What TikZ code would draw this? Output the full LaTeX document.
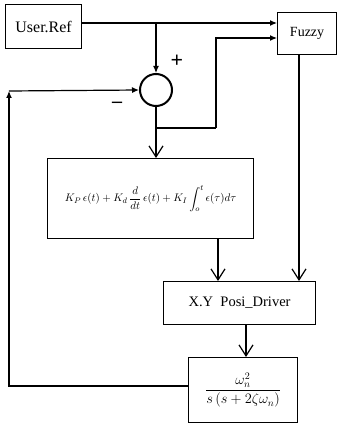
\documentclass[tikz,border=0pt]{standalone}
\usepackage{amsmath}
\usepackage{fontspec}
\setmainfont{Liberation Serif}
\usetikzlibrary{arrows.meta}
\begin{document}
\begin{tikzpicture}[x=1pt,y=-1pt,
  blk/.style={draw,line width=1.2pt,inner sep=0pt,anchor=north west},
  ln/.style={line width=1.2pt},
  fa/.style={ln,-{Latex[length=7pt,width=6pt]}},
  va/.style={ln,-{Straight Barb[length=11pt,width=14pt,line width=1.2pt]}}]
\useasboundingbox (0,0) rectangle (339,425);
\node[blk,minimum width=76pt,minimum height=44pt,font=\fontsize{16}{18}\selectfont] (user) at (5,4) {User.Ref};
\node[blk,minimum width=59pt,minimum height=42pt,font=\fontsize{14}{16}\selectfont] (fuzzy) at (277,12) {Fuzzy};
\node[draw,circle,line width=2pt,minimum size=32pt,inner sep=0pt] (sum) at (156,90) {};
\node[font=\fontsize{22}{22}\selectfont\bfseries] (plus) at (177,61) {+};
\node[font=\fontsize{20}{20}\selectfont\bfseries] (minus) at (117,105) {--};
\node[blk,minimum width=206pt,minimum height=80pt,font=\fontsize{10.8}{12}\selectfont] (pid) at (47,158)
  {$K_P\,\epsilon(t)+K_d\,\dfrac{d}{dt}\,\epsilon(t)+K_I\displaystyle\int_o^t \epsilon(\tau)d\tau$};
\node[blk,minimum width=152pt,minimum height=43pt,font=\fontsize{14.5}{16}\selectfont] (drv) at (163,281) {X.Y\ \ Posi\_Driver};
\node[blk,minimum width=109pt,minimum height=65pt,font=\fontsize{14.5}{16}\selectfont] (plant) at (188,357)
  {$\dfrac{\omega_n^2}{s\,(s+2\zeta\omega_n)}$};
\coordinate (br) at (156,23);
\coordinate (j) at (156,128);
\coordinate (jr) at (216,128);
\coordinate (fb) at (9,386);
\coordinate (fbt) at (9,91);
\draw[fa] (user.east |- br) -- (fuzzy.west |- br);
\draw[fa] (br) -- (sum.north);
\draw[ln] (sum.south) -- (j) -- (jr);
\draw[fa] (jr) -- (216,38) -- (fuzzy.west |- 0,38);
\draw[va] (j) -- (pid.north -| j);
\draw[va] (218,238) -- (drv.north -| 218,0);
\draw[va] (fuzzy.south -| 299,0) -- (drv.north -| 299,0);
\draw[va] (drv.south -| 246,0) -- (plant.north -| 246,0);
\draw[fa] (plant.west |- fb) -- (fb) -- (fbt);
\draw[fa] (fbt) -- (sum.west);
\end{tikzpicture}
\end{document}
